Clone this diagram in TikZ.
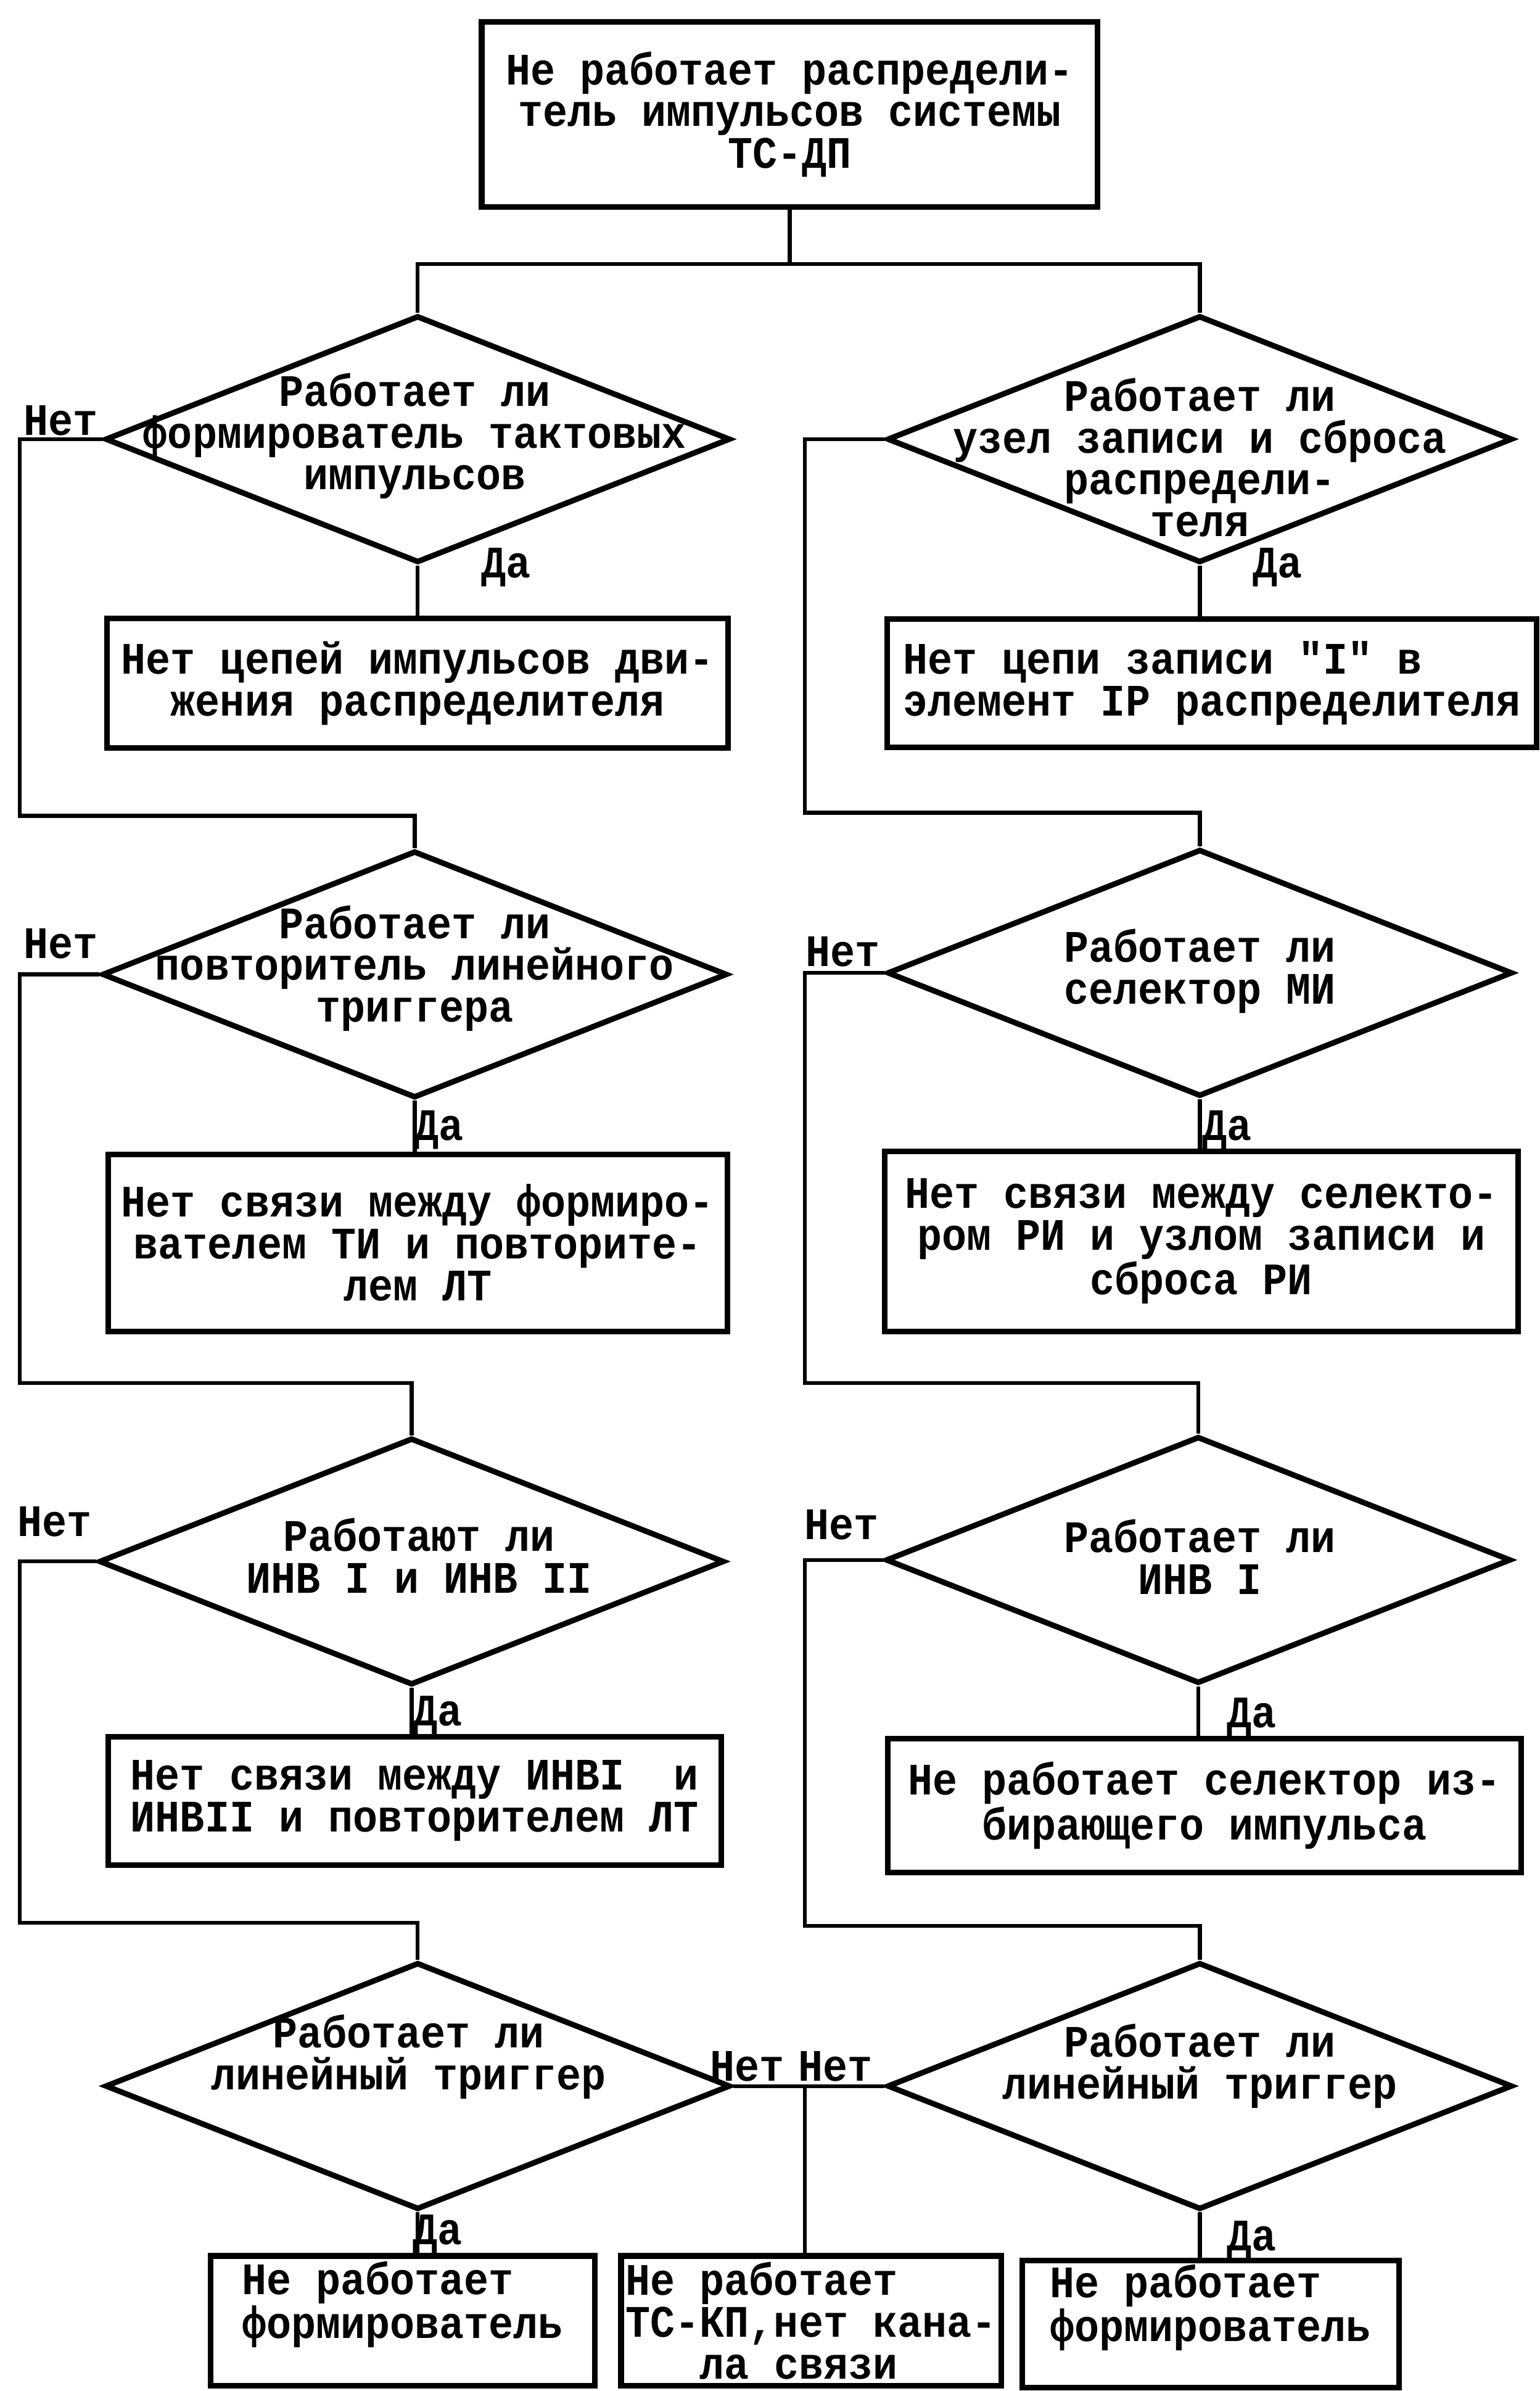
\documentclass[tikz,border=0pt]{standalone}
\usepackage{fontspec}
\newfontfamily\twfont{Liberation Mono}[FakeStretch=0.914]
\usepackage{tikz}
\usetikzlibrary{shapes.geometric}
\tikzstyle{cond} = [diamond, draw, line width=2.6pt, inner sep=0pt,
    minimum width=10.25cm, minimum height=4.05cm]
\tikzstyle{box} = [rectangle, draw, line width=2.6pt, inner sep=1pt, align=center]
\tikzstyle{qtext} = [inner sep=0pt, align=center]
\tikzstyle{ans} = [inner sep=0pt]
\tikzstyle{wire} = [line width=1.8pt]
\tikzset{every node/.style={font=\twfont\bfseries\fontsize{21pt}{19.5pt}\selectfont}}

\begin{document}
\begin{tikzpicture}
\begin{scope}[x=0.025cm, y=-0.025cm]
    \useasboundingbox (0,0) rectangle (1010,1568);
    %top
    \node[box, minimum width=10.1cm, minimum height=3.03cm] (top) at (518,75)
        {Не работает распредели-\\тель импульсов системы\\ТС-ДП};
    %conditions
    \node[cond] (q1) at (274,288) {};
    \node[cond] (r1) at (787,288) {};
    \node[cond] (q2) at (272,639) {};
    \node[cond] (r2) at (787,638) {};
    \node[cond] (q3) at (270,1024) {};
    \node[cond] (r3) at (786,1023) {};
    \node[cond] (q4) at (274,1368) {};
    \node[cond] (r4) at (787,1368) {};
    \node[qtext] (q1t) at (272,286) {Работает ли\\формирователь тактовых\\импульсов};
    \node[qtext] (r1t) at (787,300) {Работает ли\\узел записи и сброса\\распредели-\\теля};
    \node[qtext] (q2t) at (272,635) {Работает ли\\повторитель линейного\\триггера};
    \node[qtext] (r2t) at (787,637) {Работает ли\\селектор МИ};
    \node[qtext] (q3t) at (275,1020) {Работают ли\\ИНВ I и ИНВ II};
    \node[qtext] (r3t) at (787,1021) {Работает ли\\ИНВ I};
    \node[qtext] (q4t) at (268,1349) {Работает ли\\линейный триггер};
    \node[qtext] (r4t) at (787,1355) {Работает ли\\линейный триггер};
    %results
    \node[box, minimum width=10.18cm, minimum height=2.13cm] (a1) at (274,448)
        {Нет цепей импульсов дви-\\жения распределителя};
    \node[box, align=left, minimum width=10.65cm, minimum height=2.1cm] (b1) at (795,448)
        {Нет цепи записи "I" в\\элемент IP распределителя};
    \node[box, minimum width=10.15cm, minimum height=2.9cm] (a2) at (274,815)
        {Нет связи между формиро-\\вателем ТИ и повторите-\\лем ЛТ};
    \node[box, minimum width=10.38cm, minimum height=2.95cm] (b2) at (788,814)
        {Нет связи между селекто-\\ром РИ и узлом записи и\\сброса РИ};
    \node[box, minimum width=10.05cm, minimum height=2.1cm] (a3) at (272,1181)
        {Нет связи между ИНВI~~и\\ИНВII и повторителем ЛТ};
    \node[box, minimum width=10.38cm, minimum height=2.2cm] (b3) at (790,1184)
        {Не работает селектор из-\\бирающего импульса};
    \node[box, align=left, minimum width=6.3cm, minimum height=2.13cm] (c1) at (264,1522)
        {Не работает\\формирователь\\~};
    \node[box, align=left, minimum width=6.23cm, minimum height=2.13cm] (c2) at (532,1522)
        {Не работает\\ТС-КП,нет кана-\\\phantom{ххх}ла связи};
    \node[box, align=left, minimum width=6.18cm, minimum height=2.08cm] (c3) at (794,1524)
        {Не работает\\формирователь\\~};
    %answers
    \node[ans] (n1) at (40,276) {Нет};
    \node[ans] (y1) at (332,372) {Да};
    \node[ans] (y1r) at (838,372) {Да};
    \node[ans] (n2) at (40,619) {Нет};
    \node[ans] (n2r) at (553,624) {Нет};
    \node[ans] (y2) at (288,741) {Да};
    \node[ans] (y2r) at (805,741) {Да};
    \node[ans] (n3) at (36,998) {Нет};
    \node[ans] (n3r) at (552,1000) {Нет};
    \node[ans] (y3) at (287,1125) {Да};
    \node[ans] (y3r) at (821,1126) {Да};
    \node[ans] (n4) at (490,1355) {Нет};
    \node[ans] (n4r) at (548,1355) {Нет};
    \node[ans] (y4) at (287,1465) {Да};
    \node[ans] (y4r) at (821,1469) {Да};
    %lines
    \coordinate (split) at (518,173);
    \coordinate (lt1) at (13,535);
    \coordinate (rt1) at (528,533);
    \coordinate (lt2) at (13,907);
    \coordinate (rt2) at (528,907);
    \coordinate (lt3) at (13,1261);
    \coordinate (rt3) at (528,1263);
    \coordinate (mid) at (528,1368);
    \draw[wire] (top) -- (split);
    \draw[wire] (q1.north) |- (split) -| (r1.north);
    \draw[wire] (q1.south) -- (q1.south |- a1.north);
    \draw[wire] (r1.south) -- (r1.south |- b1.north);
    \draw[wire] (q1.west) -| (lt1) -| (q2.north);
    \draw[wire] (r1.west) -| (rt1) -| (r2.north);
    \draw[wire] (q2.south) -- (q2.south |- a2.north);
    \draw[wire] (r2.south) -- (r2.south |- b2.north);
    \draw[wire] (q2.west) -| (lt2) -| (q3.north);
    \draw[wire] (r2.west) -| (rt2) -| (r3.north);
    \draw[wire] (q3.south) -- (q3.south |- a3.north);
    \draw[wire] (r3.south) -- (r3.south |- b3.north);
    \draw[wire] (q3.west) -| (lt3) -| (q4.north);
    \draw[wire] (r3.west) -| (rt3) -| (r4.north);
    \draw[wire] (q4.east) -- (r4.west);
    \draw[wire] (mid) -- (mid |- c2.north);
    \draw[wire] (q4.south) -- (q4.south |- c1.north);
    \draw[wire] (r4.south) -- (r4.south |- c3.north);
\end{scope}
\end{tikzpicture}
\end{document}
